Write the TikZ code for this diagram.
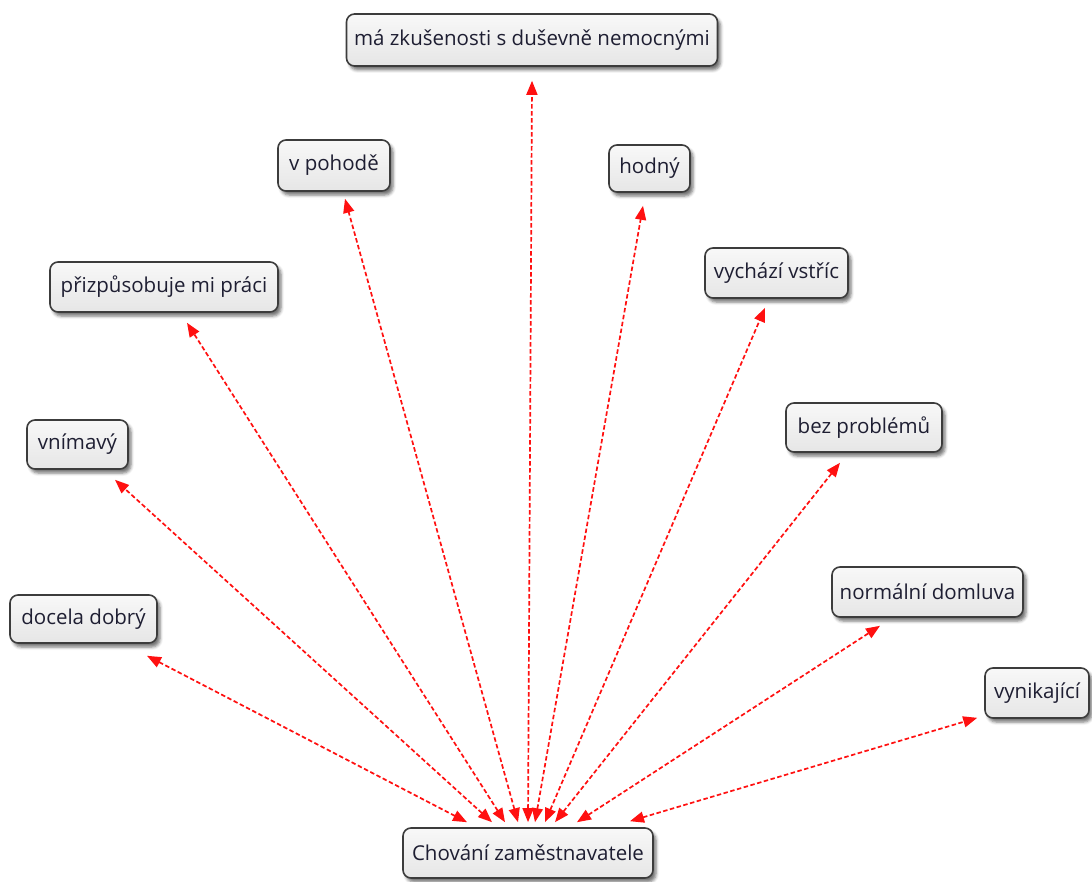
\documentclass[tikz,border=0pt]{standalone}
\usepackage{fontspec}
\setmainfont{Open Sans}
\usetikzlibrary{arrows.meta,shadows.blur}
\definecolor{boxline}{HTML}{3C3C3C}
\definecolor{boxtop}{HTML}{F8F8F8}
\definecolor{boxbot}{HTML}{E6E6E6}
\definecolor{boxtext}{HTML}{1E1E32}
\definecolor{linkred}{HTML}{FF1010}
\tikzset{
  concept/.style={draw=boxline, line width=1.6pt, rounded corners=8pt,
    top color=boxtop, bottom color=boxbot, text=boxtext,
    font=\fontsize{20.5}{22}\selectfont, inner sep=0pt, align=center,
    blur shadow={shadow xshift=3pt, shadow yshift=-4pt,
      shadow blur radius=3pt, shadow opacity=55}},
  link/.style={draw=linkred, line width=1.7pt, dash pattern=on 4.5pt off 2.5pt,
    {Triangle[length=14pt,width=11pt]}-{Triangle[length=14pt,width=11pt]}},
}
\begin{document}
\begin{tikzpicture}[x=1pt,y=-1pt]
\useasboundingbox (0,0) rectangle (1092,882);

% outer concepts
\node[concept, minimum width=371pt, minimum height=52pt] (A) at (532,40) {má zkušenosti s duševně nemocnými};
\node[concept, minimum width=112pt, minimum height=51pt] (B) at (334,165.5) {v pohodě};
\node[concept, minimum width=81pt,  minimum height=47pt] (C) at (649.5,168.5) {hodný};
\node[concept, minimum width=228pt, minimum height=50pt] (D) at (164,287) {přizpůsobuje mi práci};
\node[concept, minimum width=143pt, minimum height=50pt] (E) at (776.5,273) {vychází vstříc};
\node[concept, minimum width=101pt, minimum height=49pt] (F) at (77.5,444.5) {vnímavý};
\node[concept, minimum width=156pt, minimum height=49pt] (G) at (864,427.5) {bez problémů};
\node[concept, minimum width=147pt, minimum height=48pt] (H) at (83.5,619) {docela dobrý};
\node[concept, minimum width=191pt, minimum height=50pt] (I) at (927.5,592) {normální domluva};
\node[concept, minimum width=104pt, minimum height=50pt] (J) at (1037,693) {vynikající};

% central concept
\node[concept, minimum width=250pt, minimum height=50pt] (K) at (528,853) {Chování zaměstnavatele};

% connectors
\draw[link] ([xshift=-61pt,yshift=5pt]K.north) -- ([xshift=63.5pt,yshift=-12pt]H.south);
\draw[link] ([xshift=-36pt,yshift=5pt]K.north) -- ([xshift=37.5pt,yshift=-10pt]F.south);
\draw[link] ([xshift=-23pt,yshift=5pt]K.north) -- ([xshift=23pt,yshift=-10pt]D.south);
\draw[link] ([xshift=-10pt,yshift=5pt]K.north) -- ([xshift=11pt,yshift=-7pt]B.south);
\draw[link] ([xshift=0pt,yshift=5pt]K.north) -- ([xshift=0pt,yshift=-14pt]A.south);
\draw[link] ([xshift=7pt,yshift=5pt]K.north) -- ([xshift=-6.5pt,yshift=-13pt]C.south);
\draw[link] ([xshift=17pt,yshift=5pt]K.north) -- ([xshift=-11.5pt,yshift=-9pt]E.south);
\draw[link] ([xshift=27pt,yshift=5pt]K.north) -- ([xshift=-24pt,yshift=-10pt]G.south);
\draw[link] ([xshift=49pt,yshift=5pt]K.north) -- ([xshift=-47.5pt,yshift=-8pt]I.south);
\draw[link] ([xshift=102pt,yshift=6pt]K.north) -- ([xshift=-7pt,yshift=1pt]J.south west);
\end{tikzpicture}
\end{document}
